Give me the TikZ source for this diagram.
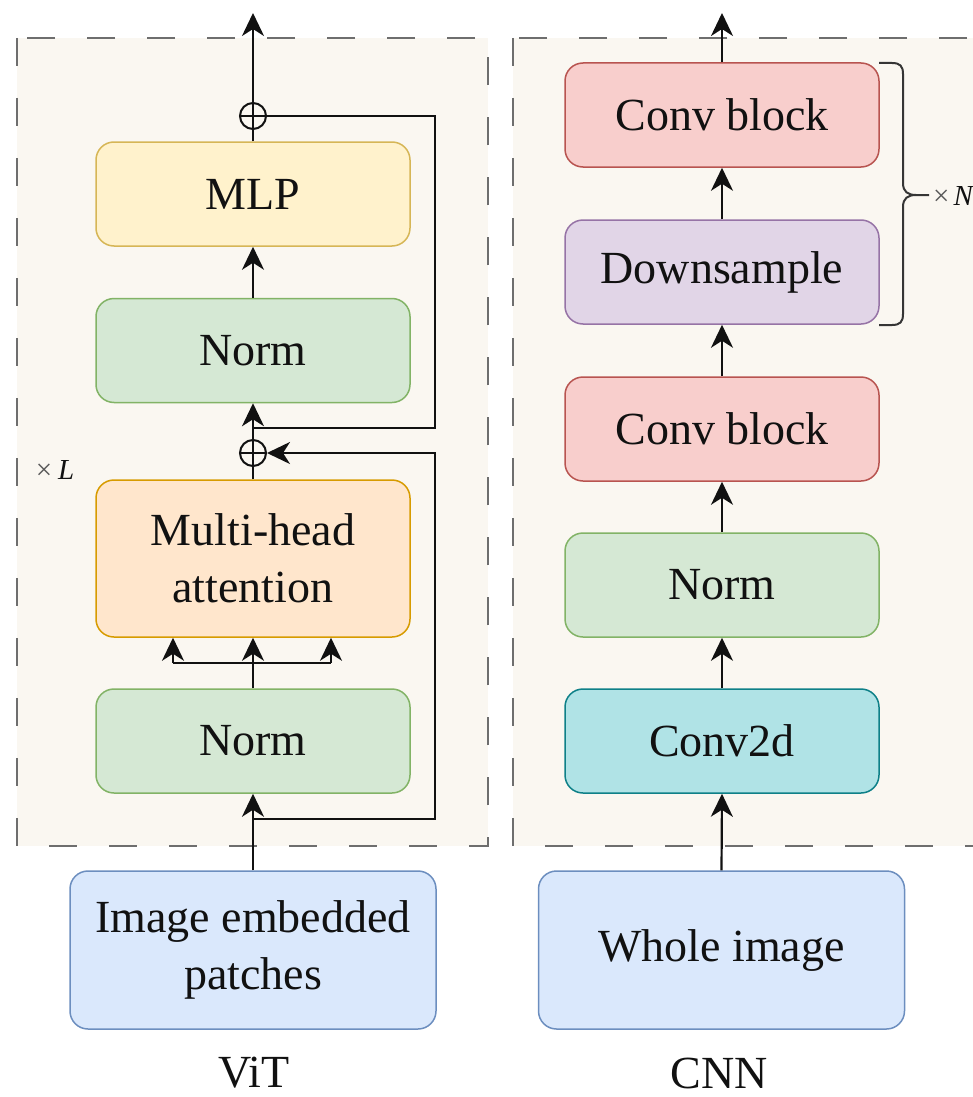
\documentclass[tikz,border=0pt]{standalone}
\usepackage{fontspec}
\setmainfont{Liberation Serif}
\usetikzlibrary{arrows.meta,calc}

\definecolor{panelfill}{HTML}{FAF7F1}
\definecolor{panelline}{HTML}{6E6E6E}
\definecolor{inkc}{HTML}{111111}
\definecolor{mlpF}{HTML}{FFF2CC}\definecolor{mlpD}{HTML}{D6B656}
\definecolor{normF}{HTML}{D5E8D4}\definecolor{normD}{HTML}{82B366}
\definecolor{attF}{HTML}{FFE6CC}\definecolor{attD}{HTML}{D79B00}
\definecolor{convF}{HTML}{F8CECC}\definecolor{convD}{HTML}{B85450}
\definecolor{downF}{HTML}{E1D5E7}\definecolor{downD}{HTML}{9673A6}
\definecolor{c2dF}{HTML}{B0E3E6}\definecolor{c2dD}{HTML}{0E8088}
\definecolor{inF}{HTML}{DAE8FC}\definecolor{inD}{HTML}{6C8EBF}

\tikzset{
  blk/.style={rectangle, rounded corners=18pt, line width=1.5pt,
    minimum width=314pt, minimum height=104pt, align=center,
    text=inkc, font=\fontsize{46}{57}\selectfont},
  inblk/.style={blk, fill=inF, draw=inD, minimum width=366pt, minimum height=158pt},
  panel/.style={fill=panelfill, draw=panelline, line width=2pt,
    dash pattern=on 28pt off 32pt},
  wire/.style={draw=inkc, line width=2.2pt},
  arr/.style={wire, -{Stealth[length=23pt,width=22pt,inset=7pt]}},
  adder/.style={circle, draw=inkc, line width=2pt, minimum size=26pt, inner sep=0pt},
  title/.style={text=inkc, inner sep=0pt, font=\fontsize{46}{57}\selectfont},
  rep/.style={text=inkc, font=\fontsize{29}{32}\selectfont}
}

\begin{document}
\begin{tikzpicture}[x=1pt, y=-1pt]
\useasboundingbox (0,0) rectangle (972,1097);

% the two dashed stage panels
\draw[panel] (17,38) rectangle (488,846);
\draw[panel] (513,38) rectangle (1012,846);

% ---------- ViT branch ----------
\node[blk, fill=mlpF, draw=mlpD] (mlp) at (253,194) {MLP};
\node[blk, fill=normF, draw=normD] (vnorm1) at (253,350.5) {Norm};
\node[blk, fill=attF, draw=attD, minimum height=157pt] (mha) at (253,558.5) {Multi-head\\attention};
\node[blk, fill=normF, draw=normD] (vnorm2) at (253,741) {Norm};
\node[inblk] (vin) at (253,950) {Image embedded\\patches};
\node[title] (vit) at (254,1073) {ViT};
\node[rep] (xl) at (55,470) {{\color{inkc!70}×}\hspace{6pt}\textit{L}};

\node[adder] (add1) at (253,116) {};
\node[adder] (add2) at (253,453) {};
\draw[wire] (add1.north) -- (add1.south) (add1.west) -- (add1.east);
\draw[wire] (add2.north) -- (add2.south) (add2.west) -- (add2.east);

\coordinate (vout) at (253,13);
\coordinate (skipx) at (435,0);
\coordinate (res1) at (253,428);
\coordinate (res2) at (253,819);
\coordinate (qk) at (173,663);
\coordinate (vv) at (331,663);

\draw[arr] (add1.north) -- (vout);
\draw[wire] (mlp.north) -- (add1.south);
\draw[arr] (vnorm1.north) -- (mlp.south);
\draw[arr] (add2.north) -- (vnorm1.south);
\draw[wire] (mha.north) -- (add2.south);
\draw[arr] (vnorm2.north) -- (mha.south);
\draw[wire] (qk) -- (vv);
\draw[arr] (qk) -- (qk |- mha.south);
\draw[arr] (vv) -- (vv |- mha.south);
\draw[arr] (vin.north) -- (vnorm2.south);

% residual paths
\draw[wire] (res1) -- (res1 -| skipx) -- (add1.east -| skipx) -- (add1.east);
\draw[arr] (res2) -- (res2 -| skipx) -- (add2.east -| skipx) -- (add2.east);

% ---------- CNN branch ----------
\node[blk, fill=convF, draw=convD] (conv1) at (722,115) {Conv block};
\node[blk, fill=downF, draw=downD] (down) at (722,272) {Downsample};
\node[blk, fill=convF, draw=convD] (conv2) at (722,429) {Conv block};
\node[blk, fill=normF, draw=normD] (cnorm) at (722,585) {Norm};
\node[blk, fill=c2dF, draw=c2dD] (c2d) at (722,741) {Conv2d};
\node[inblk] (cin) at (721.5,950) {Whole image};
\node[title] (cnn) at (719,1073) {CNN};

\coordinate (cout) at (722,13);
\draw[arr] (conv1.north) -- (cout);
\draw[arr] (down.north) -- (conv1.south);
\draw[arr] (conv2.north) -- (down.south);
\draw[arr] (cnorm.north) -- (conv2.south);
\draw[arr] (c2d.north) -- (cnorm.south);
\draw[arr] (cin.north) -- (c2d.south);

% repeat brace
\draw[draw=inkc!85, line width=2pt]
  (879,63) -- (892,63) .. controls (900,63) and (903,66) .. (903,74)
  -- (903,183) .. controls (903,192) and (908,195) .. (916,195) -- (929,195)
  (916,195) .. controls (908,195) and (903,198) .. (903,207)
  -- (903,314) .. controls (903,322) and (900,325) .. (892,325) -- (879,325);
\node[rep, anchor=west, inner sep=0pt] (xn) at (933,196) {{\color{inkc!70}×}\hspace{4pt}\textit{N}};
\end{tikzpicture}
\end{document}
